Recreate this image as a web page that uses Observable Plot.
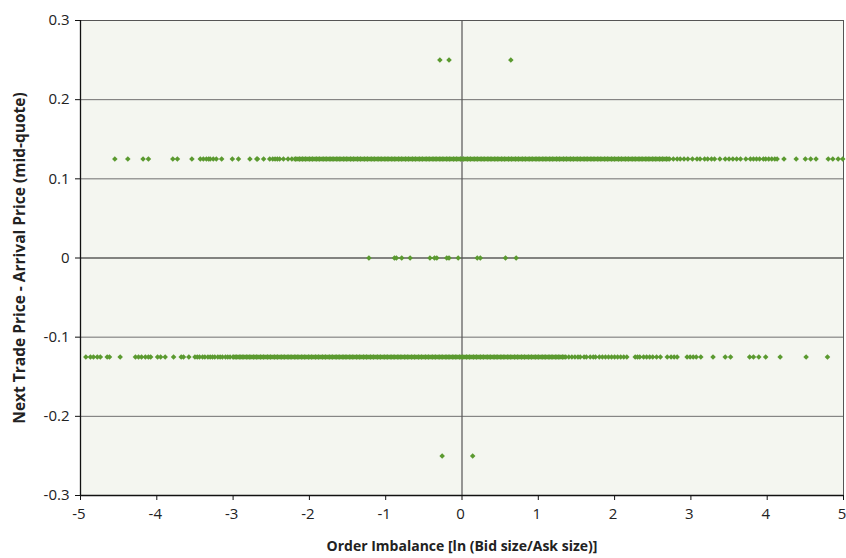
<!DOCTYPE html>
<html>
<head>
<meta charset="utf-8">
<script src="https://cdn.jsdelivr.net/npm/d3@7"></script>
<script src="https://cdn.jsdelivr.net/npm/@observablehq/plot@0.6"></script>
<style>
  html, body { margin: 0; padding: 0; background: #ffffff; }
  #chart { width: 846px; height: 558px; }
</style>
</head>
<body>
<div id="chart"></div>
<script>
// Tick labels
const xTicks = [-5, -4, -3, -2, -1, 0, 1, 2, 3, 4, 5];
const yTicks = [-0.3, -0.2, -0.1, 0, 0.1, 0.2, 0.3];
const xLabel = "Order Imbalance [ln (Bid size/Ask size)]";
const yLabel = "Next Trade Price - Arrival Price (mid-quote)";

// Price levels (y values) of the rows of points
const levelUp = 0.125, levelDown = -0.125, levelZero = 0, levelUp2 = 0.25, levelDown2 = -0.25;

// Ranges of x where the points are so dense that they merge into a solid band
const denseUp = [-2.2, 2.72];
const denseDown = [-3.0, 1.36];

// Order imbalance values (x) at +0.125
const xUp = [-4.55,-4.38,-4.18,-4.11,-3.79,-3.73,-3.54,-3.43,-3.39,-3.35,-3.32,-3.30,-3.26,-3.22,-3.15,-3.01,-2.93,-2.78,-2.69,-2.68,-2.60,-2.52,-2.48,-2.45,-2.42,-2.39,-2.34,-2.28,
  -2.23,-2.18,-2.13,-2.09,-2.05,-2.00,-1.96,-1.91,-1.87,-1.82,-1.78,-1.73,-1.69,-1.64,-1.60,-1.55,-1.51,-1.46,-1.42,-1.37,-1.33,-1.28,-1.24,-1.19,-1.15,-1.10,-1.06,-1.01,-0.97,-0.92,-0.88,-0.83,-0.79,-0.74,-0.70,-0.65,-0.61,-0.56,-0.52,-0.47,-0.43,-0.38,-0.34,-0.29,-0.25,-0.20,-0.16,-0.11,-0.07,-0.02,
  0.02,0.07,0.11,0.16,0.20,0.25,0.29,0.34,0.38,0.43,0.47,0.52,0.56,0.61,0.65,0.70,0.74,0.79,0.83,0.88,0.92,0.97,1.01,1.06,1.10,1.15,1.19,1.24,1.28,1.33,1.37,1.42,1.46,1.51,1.55,1.60,1.64,1.69,1.73,1.78,1.82,1.87,1.91,1.96,2.00,2.05,2.09,2.14,2.18,2.23,2.27,2.32,2.36,2.41,2.45,2.50,2.54,2.59,2.63,2.68,2.72,
  2.77,2.82,2.86,2.91,2.96,3.02,3.08,3.12,3.18,3.22,3.27,3.31,3.38,3.45,3.50,3.55,3.60,3.65,3.72,3.78,3.82,3.86,3.90,3.95,3.98,4.02,4.06,4.10,4.13,4.22,4.38,4.50,4.57,4.64,4.80,4.86,4.93,4.99];

// Order imbalance values (x) at -0.125
const xDown = [-4.93,-4.87,-4.83,-4.78,-4.74,-4.65,-4.62,-4.48,-4.28,-4.24,-4.20,-4.15,-4.11,-4.08,-3.99,-3.95,-3.89,-3.78,-3.68,-3.65,-3.58,-3.50,-3.47,-3.44,-3.40,-3.37,-3.33,-3.30,-3.27,-3.24,-3.20,-3.17,-3.14,-3.10,-3.07,-3.04,
  -3.00,-2.96,-2.91,-2.87,-2.82,-2.78,-2.73,-2.69,-2.64,-2.60,-2.55,-2.51,-2.46,-2.42,-2.37,-2.33,-2.28,-2.24,-2.19,-2.15,-2.10,-2.06,-2.01,-1.97,-1.92,-1.88,-1.83,-1.79,-1.74,-1.70,-1.65,-1.61,-1.56,-1.52,-1.47,-1.43,-1.38,-1.34,-1.29,-1.25,-1.20,-1.16,-1.11,-1.07,-1.02,-0.98,-0.93,-0.89,-0.84,-0.80,-0.75,-0.71,-0.66,-0.62,-0.57,-0.53,-0.48,-0.44,-0.39,-0.35,-0.30,-0.26,-0.21,-0.17,-0.12,-0.08,-0.03,
  0.01,0.06,0.10,0.15,0.19,0.24,0.28,0.33,0.37,0.42,0.46,0.51,0.55,0.60,0.64,0.69,0.73,0.78,0.82,0.87,0.91,0.96,1.00,1.05,1.09,1.14,1.18,1.23,1.27,1.32,1.36,
  1.40,1.44,1.48,1.52,1.55,1.60,1.63,1.68,1.72,1.75,1.80,1.84,1.88,1.92,1.96,2.00,2.04,2.08,2.12,2.16,
  2.27,2.30,2.33,2.38,2.42,2.46,2.50,2.55,2.60,2.69,2.74,2.78,2.82,2.95,2.99,3.03,3.07,3.13,3.29,3.45,3.52,3.77,3.82,3.89,3.98,4.17,4.51,4.79];

// Order imbalance values (x) at 0
const xZero = [-1.22,-0.885,-0.86,-0.79,-0.68,-0.42,-0.36,-0.33,-0.20,-0.17,-0.05,0.20,0.24,0.57,0.71];
// at +0.25 and -0.25
const xUp2 = [-0.29,-0.17,0.64];
const xDown2 = [-0.26,0.14];

const points = [
  ...xUp.map(x => ({x, y: levelUp})),
  ...xDown.map(x => ({x, y: levelDown})),
  ...xZero.map(x => ({x, y: levelZero})),
  ...xUp2.map(x => ({x, y: levelUp2})),
  ...xDown2.map(x => ({x, y: levelDown2}))
];
const bands = [
  {x1: denseUp[0], x2: denseUp[1], y: levelUp},
  {x1: denseDown[0], x2: denseDown[1], y: levelDown}
];

const fmt = d => String(Math.round(d * 10) / 10);
const green = "#5b9a30";

const chart = Plot.plot({
  width: 846,
  height: 558,
  marginLeft: 80,
  marginRight: 3,
  marginTop: 20,
  marginBottom: 63,
  style: {fontFamily: "'Open Sans', sans-serif", fontSize: "15px", color: "#222", background: "#ffffff"},
  x: {domain: [-5, 5], ticks: xTicks, tickFormat: fmt, tickSize: 5, tickPadding: 8, label: null},
  y: {domain: [-0.3, 0.3], ticks: yTicks, tickFormat: fmt, tickSize: 5, tickPadding: 6, label: null},
  marks: [
    Plot.frame({fill: "#f4f6f0", stroke: "#555"}),
    Plot.gridY(yTicks.filter(d => d !== 0 && Math.abs(d) < 0.3), {stroke: "#6f6f6f", strokeOpacity: 1}),
    Plot.ruleY([0], {stroke: "#111"}),
    Plot.ruleX([0], {stroke: "#555", strokeWidth: 1.2}),
    Plot.ruleY(bands, {x1: "x1", x2: "x2", y: "y", stroke: green, strokeWidth: 4.5}),
    Plot.dot(points, {x: "x", y: "y", symbol: "diamond2", r: 2.5, fill: green, stroke: null}),
    Plot.ruleX([-5], {stroke: "#111", strokeWidth: 1.3}),
    Plot.ruleY([-0.3], {stroke: "#111", strokeWidth: 1.3}),
    Plot.axisX({ticks: xTicks, tickFormat: () => "", tickSize: 5, label: null, stroke: "#111"}),
    Plot.axisX({ticks: xTicks, tickFormat: fmt, tickSize: 0, tickPadding: 13, label: null, dx: -1.5}),
    Plot.axisY({ticks: yTicks, tickFormat: fmt, tickSize: 5, tickPadding: 6, label: null, stroke: "#111"}),
    Plot.text([xLabel], {frameAnchor: "bottom", dy: 51, text: d => d, fontSize: 14, fontWeight: "bold", fill: "#222", lineAnchor: "middle", textAnchor: "middle"}),
    Plot.text([yLabel], {frameAnchor: "left", dx: -60, rotate: -90, text: d => d, fontSize: 15.5, fontWeight: "bold", fill: "#222", lineAnchor: "middle", textAnchor: "middle"})
  ]
});
document.getElementById("chart").appendChild(chart);
</script>
</body>
</html>
